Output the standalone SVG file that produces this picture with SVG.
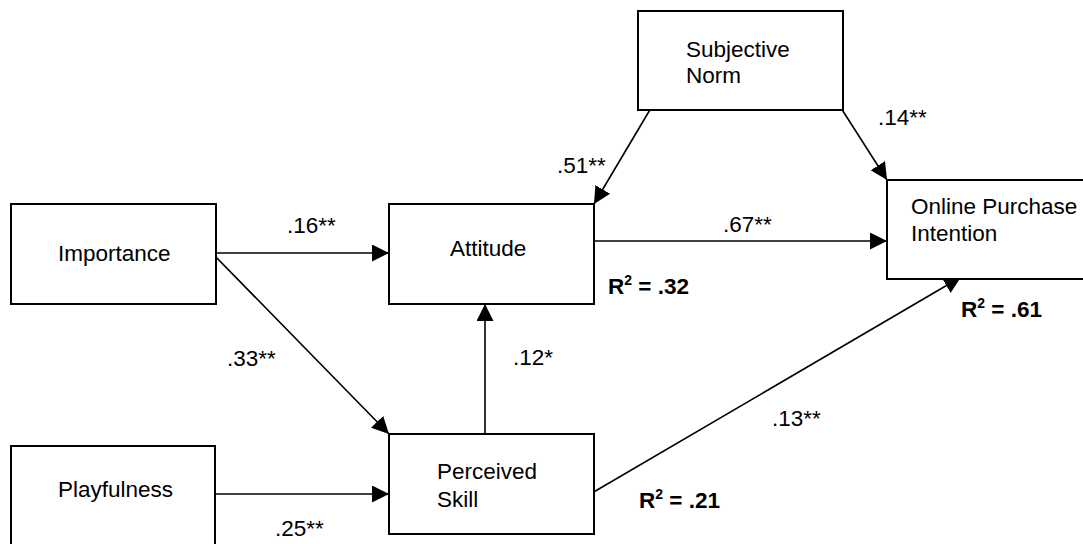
<svg xmlns="http://www.w3.org/2000/svg" width="1083" height="544" viewBox="0 0 1083 544">
<defs>
<style>
.box{fill:#fff;stroke:#000;stroke-width:2}
.ln{stroke:#000;stroke-width:1.6;fill:none}
text{font-family:"Liberation Sans",Arial,sans-serif;font-size:22.5px;fill:#000}
.r2{font-weight:bold}
</style>
<marker id="ah" markerUnits="userSpaceOnUse" markerWidth="18" markerHeight="18" refX="17" refY="8.5" orient="auto">
<path d="M0,0 L17,8.5 L0,17 z" fill="#000"/>
</marker>
</defs>
<rect width="1083" height="544" fill="#fff"/>
<g id="connectors">
<line class="ln" x1="212" y1="253" x2="389" y2="253" marker-end="url(#ah)"/>
<line class="ln" x1="212" y1="253" x2="389" y2="434" marker-end="url(#ah)"/>
<line class="ln" x1="212" y1="494" x2="389" y2="494" marker-end="url(#ah)"/>
<line class="ln" x1="485" y1="434" x2="485" y2="304" marker-end="url(#ah)"/>
<line class="ln" x1="591" y1="241" x2="887" y2="241" marker-end="url(#ah)"/>
<line class="ln" x1="651" y1="108" x2="594" y2="204" marker-end="url(#ah)"/>
<line class="ln" x1="841" y1="108" x2="887" y2="180" marker-end="url(#ah)"/>
<line class="ln" x1="592" y1="493" x2="961" y2="277" marker-end="url(#ah)"/>
<text x="287" y="233">.16**</text>
<text x="227" y="366">.33**</text>
<text x="275" y="536">.25**</text>
<text x="513" y="365">.12*</text>
<text x="723" y="232">.67**</text>
<text x="557" y="173">.51**</text>
<text x="878" y="125">.14**</text>
<text x="772" y="426">.13**</text>
</g>
<g id="importance">
<rect class="box" x="11" y="204" width="205" height="100"/>
<text x="58" y="261">Importance</text>
</g>
<g id="attitude">
<rect class="box" x="389" y="204" width="205" height="100"/>
<text x="450" y="256">Attitude</text>
<text class="r2" x="608" y="294">R<tspan dy="-9" font-size="14">2</tspan><tspan dy="9"> = .32</tspan></text>
</g>
<g id="perceived-skill">
<rect class="box" x="389" y="434" width="205" height="100"/>
<text x="437" y="479">Perceived</text>
<text x="437" y="507">Skill</text>
<text class="r2" x="639" y="508">R<tspan dy="-9" font-size="14">2</tspan><tspan dy="9"> = .21</tspan></text>
</g>
<g id="playfulness">
<rect class="box" x="11" y="446" width="204" height="110"/>
<text x="58" y="497">Playfulness</text>
</g>
<g id="subjective-norm">
<rect class="box" x="638" y="11" width="205" height="99"/>
<text x="686" y="57">Subjective</text>
<text x="686" y="83">Norm</text>
</g>
<g id="online-purchase-intention">
<rect class="box" x="887" y="180" width="210" height="99"/>
<text x="911" y="214">Online Purchase</text>
<text x="911" y="241">Intention</text>
<text class="r2" x="961" y="317">R<tspan dy="-9" font-size="14">2</tspan><tspan dy="9"> = .61</tspan></text>
</g>
</svg>
